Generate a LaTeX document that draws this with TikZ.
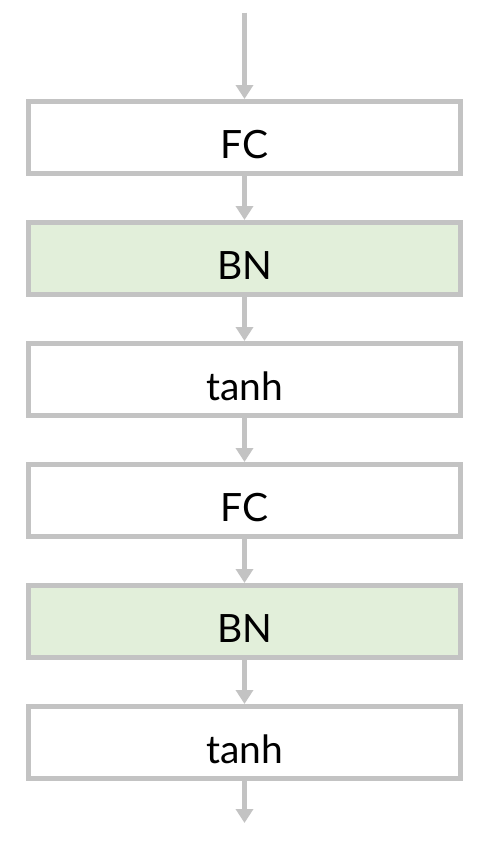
\documentclass[tikz,border=0pt]{standalone}
\usepackage{fontspec}
\setmainfont{Lato}
\usetikzlibrary{arrows.meta}
\definecolor{LineGray}{HTML}{C3C3C3}
\definecolor{NormGreen}{HTML}{E2EFDA}

\begin{document}
\begin{tikzpicture}[
    x=1pt, y=1pt,
    font=\fontsize{39}{44}\selectfont,
    layer/.style={draw=LineGray, fill=#1, line width=5pt, minimum width=432pt, minimum height=72pt, inner sep=0pt, text height=42pt, text depth=0pt},
    layer/.default=white,
    flow/.style={draw=LineGray, line width=5pt, -{Triangle[width=17pt,length=14pt]}}
]

  % Fundo
  \useasboundingbox (0,0) rectangle (489,-857);

  % =========================================================================
  % CAMADAS
  % =========================================================================
  \node[layer] (fc_a) at (244.5, -137.5) {FC};
  \node[layer=NormGreen] (bn_a) at (244.5, -258.5) {BN};
  \node[layer] (tanh_a) at (244.5, -379.5) {tanh};
  \node[layer] (fc_b) at (244.5, -500.5) {FC};
  \node[layer=NormGreen] (bn_b) at (244.5, -621.5) {BN};
  \node[layer] (tanh_b) at (244.5, -742.5) {tanh};

  % =========================================================================
  % SETAS
  % =========================================================================
  \coordinate (entrada) at (244.5, -12.5);
  \coordinate (saida) at (244.5, -823);

  \draw[flow] (entrada) -- (fc_a);
  \draw[flow] (fc_a) -- (bn_a);
  \draw[flow] (bn_a) -- (tanh_a);
  \draw[flow] (tanh_a) -- (fc_b);
  \draw[flow] (fc_b) -- (bn_b);
  \draw[flow] (bn_b) -- (tanh_b);
  \draw[flow] (tanh_b) -- (saida);

\end{tikzpicture}
\end{document}
